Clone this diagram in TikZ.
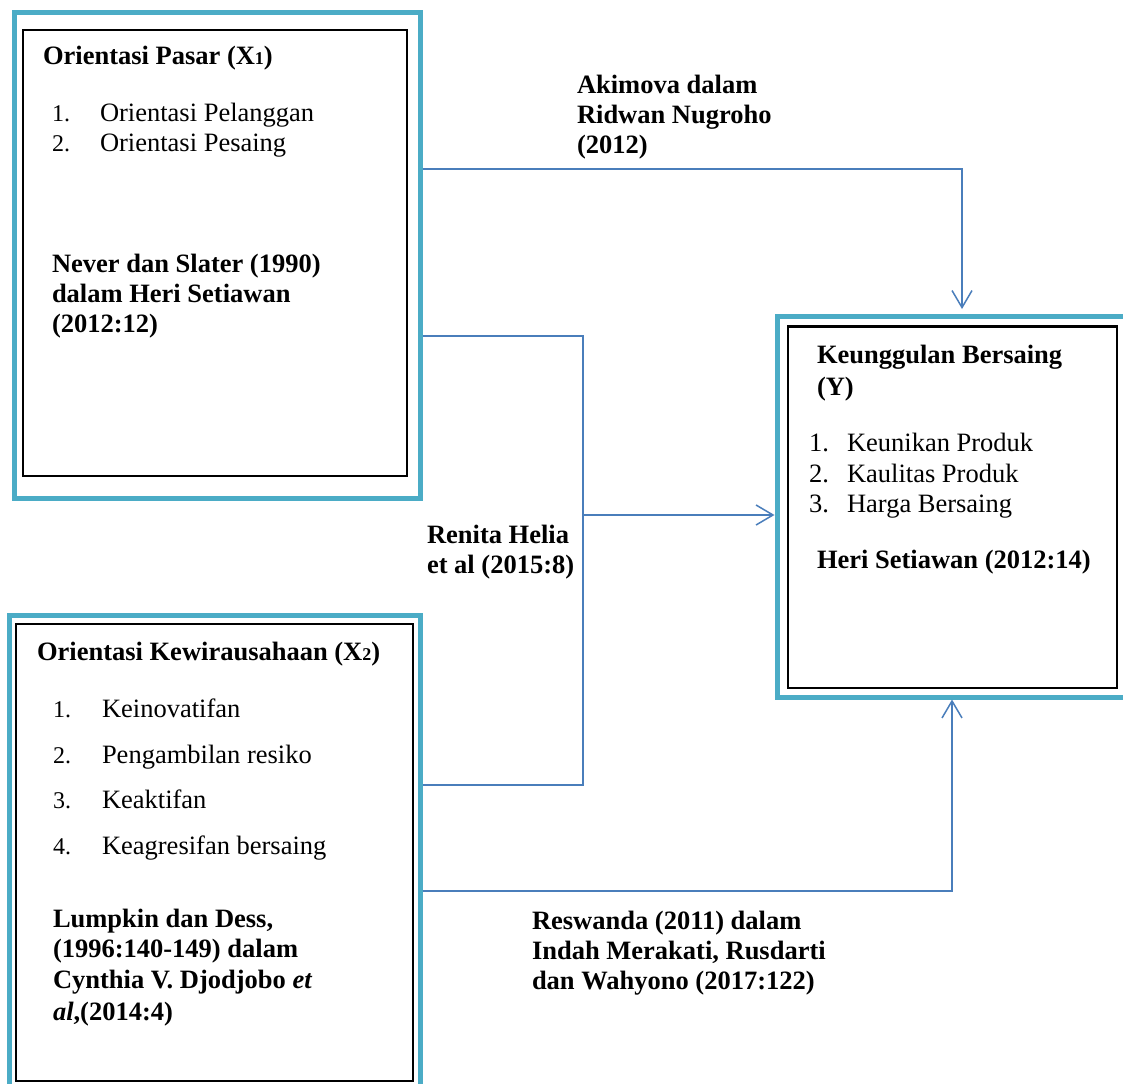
\documentclass[tikz,border=0pt]{standalone}
\usepackage{fontspec}
\setmainfont{Liberation Serif}
\usetikzlibrary{arrows.meta}
\definecolor{boxcyan}{HTML}{4BACC6}
\definecolor{connblue}{HTML}{4A7EBB}
\begin{document}
\begin{tikzpicture}[x=1pt,y=-1pt,
  txt/.style={anchor=base west, inner sep=0pt, outer sep=0pt, font=\fontsize{26.5}{30}\selectfont},
  numtxt/.style={anchor=base west, inner sep=0pt, outer sep=0pt, font=\fontsize{24}{30}\selectfont},
  btxt/.style={anchor=base west, inner sep=0pt, outer sep=0pt, font=\fontsize{26.5}{30}\selectfont\bfseries},
  outerbox/.style={draw=boxcyan, line width=5pt, inner sep=0pt, anchor=center},
  innerbox/.style={draw=black, line width=2.5pt, inner sep=0pt, anchor=center},
  conn/.style={draw=connblue, line width=1.5pt},
  tipend/.style={-{Straight Barb[length=17pt,width=20pt]}}
]
\clip (0,0) rectangle (1123,1083);
\fill[white] (0,0) rectangle (1123,1083);
\newcommand{\subnum}[1]{{\fontsize{18}{18}\selectfont #1}}

% boxes
\node[outerbox, minimum width=405.5pt, minimum height=485pt] (box1) at (217.25,255.5) {};
\node[innerbox, minimum width=384pt, minimum height=446pt] (box1in) at (215,253) {};
\node[outerbox, minimum width=410.5pt, minimum height=494.5pt] (boxX2) at (214.75,862.75) {};
\node[innerbox, minimum width=397pt, minimum height=457pt] (boxX2in) at (214.5,852.5) {};
\node[outerbox, minimum width=363pt, minimum height=381pt] (boxY) at (958.5,506.5) {};
\node[innerbox, minimum width=329pt, minimum height=361.5pt] (boxYin) at (952.5,507.25) {};

% connectors
\coordinate (k1) at (962,169);
\draw[conn,tipend] (box1.east |- k1) -- (k1) -- ([yshift=4.5pt]boxY.north -| k1);
\coordinate (j1) at (583,336);
\coordinate (j2) at (583,785);
\draw[conn] (box1.east |- j1) -- (j1) -- (j2) -- (boxX2.east |- j2);
\coordinate (j3) at (583,515);
\draw[conn,tipend] (j3) -- (boxY.west |- j3);
\coordinate (k4) at (952,891);
\draw[conn,tipend] (boxX2.east |- k4) -- (k4) -- (boxY.south -| k4);

% box 1 text
\node[btxt] (t1) at (43,65) {Orientasi Pasar (X\subnum{1})};
\node[numtxt] (n11) at (52,122) {1.};
\node[txt] (i11) at (100,122) {Orientasi Pelanggan};
\node[numtxt] (n12) at (52,152) {2.};
\node[txt] (i12) at (100,152) {Orientasi Pesaing};
\node[btxt] (c11) at (52,272) {Never dan Slater (1990)};
\node[btxt] (c12) at (52,302) {dalam Heri Setiawan};
\node[btxt] (c13) at (52,332) {(2012:12)};

% box X2 text
\node[btxt] (t2) at (37,660) {Orientasi Kewirausahaan (X\subnum{2})};
\node[numtxt] (n21) at (53,717) {1.};
\node[txt] (i21) at (102,717) {Keinovatifan};
\node[numtxt] (n22) at (53,763) {2.};
\node[txt] (i22) at (102,763) {Pengambilan resiko};
\node[numtxt] (n23) at (53,808) {3.};
\node[txt] (i23) at (102,808) {Keaktifan};
\node[numtxt] (n24) at (53,854) {4.};
\node[txt] (i24) at (102,854) {Keagresifan bersaing};
\node[btxt] (c21) at (53,927) {Lumpkin dan Dess,};
\node[btxt] (c22) at (53,957) {(1996:140-149) dalam};
\node[btxt] (c23) at (53,988) {Cynthia V. Djodjobo \textit{et}};
\node[btxt] (c24) at (53,1020) {\textit{al},(2014:4)};

% box Y text
\node[btxt] (t3) at (817,363) {Keunggulan Bersaing};
\node[btxt] (t3b) at (817,395) {(Y)};
\node[txt] (n31) at (809,451) {1.};
\node[txt] (i31) at (847,451) {Keunikan Produk};
\node[txt] (n32) at (809,482) {2.};
\node[txt] (i32) at (847,482) {Kaulitas Produk};
\node[txt] (n33) at (809,512) {3.};
\node[txt] (i33) at (847,512) {Harga Bersaing};
\node[btxt] (c31) at (817,568) {Heri Setiawan (2012:14)};

% connector labels
\node[btxt] (l11) at (577,94) {Akimova dalam};
\node[btxt] (l12) at (577,124) {Ridwan Nugroho};
\node[btxt] (l13) at (577,154) {(2012)};
\node[btxt] (l21) at (427,543) {Renita Helia};
\node[btxt] (l22) at (427,573) {et al (2015:8)};
\node[btxt] (l31) at (532,929) {Reswanda (2011) dalam};
\node[btxt] (l32) at (532,959) {Indah Merakati, Rusdarti};
\node[btxt] (l33) at (532,989) {dan Wahyono (2017:122)};
\end{tikzpicture}
\end{document}
